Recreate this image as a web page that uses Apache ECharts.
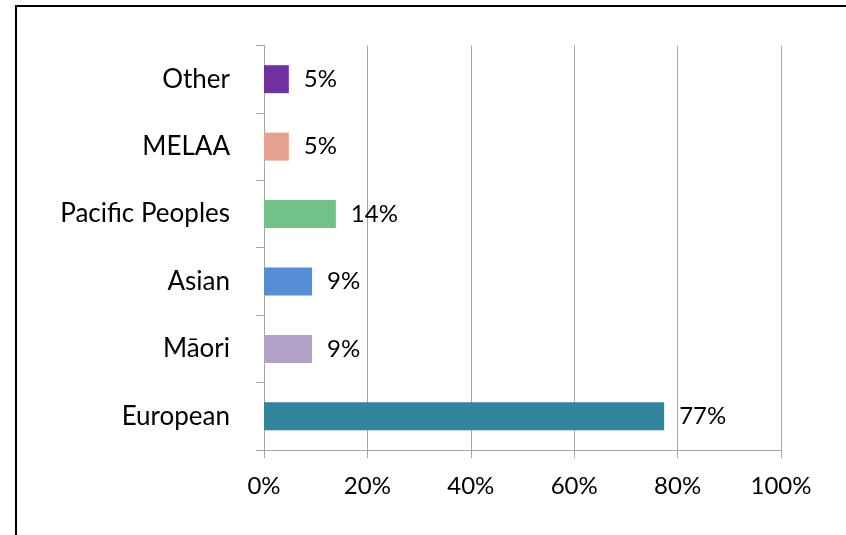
<!DOCTYPE html>
<html>
<head>
<meta charset="utf-8">
<script src="https://cdn.jsdelivr.net/npm/echarts@6/dist/echarts.min.js"></script>
<style>
  html, body { margin: 0; padding: 0; background: #fff; }
  #frame { position: absolute; left: 15px; top: 5px; width: 900px; height: 600px; border-top: 2px solid #000; border-left: 2px solid #000; }
  #chart { position: absolute; left: 0; top: 0; width: 846px; height: 535px; }
</style>
</head>
<body>
<div id="frame"></div>
<div id="chart"></div>
<script>
// bottom to top, as the category axis draws them
const categories = ['European', 'Māori', 'Asian', 'Pacific Peoples', 'MELAA', 'Other'];
const shares = [77.4, 9.3, 9.3, 13.9, 4.8, 4.8];
const barColors = ['#31859C', '#B3A2C7', '#558ED5', '#72C189', '#E6A08F', '#7030A0'];
const xTicks = [0, 20, 40, 60, 80, 100];

const FONT = 'Lato';
const AXIS = '#a6a6a6';

const chart = echarts.init(document.getElementById('chart'), null, { renderer: 'canvas' });

chart.setOption({
  animation: false,
  backgroundColor: 'transparent',
  textStyle: { fontFamily: FONT },
  grid: { left: 264, right: 65, top: 45.5, bottom: 85, outerBoundsMode: 'none' },
  xAxis: {
    type: 'value',
    min: xTicks[0],
    max: xTicks[xTicks.length - 1],
    interval: xTicks[1] - xTicks[0],
    axisLine: { show: true, lineStyle: { color: AXIS, width: 1 } },
    axisTick: { show: true, length: 8, lineStyle: { color: AXIS } },
    splitLine: { show: true, lineStyle: { color: AXIS, width: 1 } },
    axisLabel: { color: '#000', fontSize: 24, fontFamily: FONT, margin: 24, formatter: (v) => v + '%' },
  },
  yAxis: {
    type: 'category',
    data: categories,
    axisLine: { show: true, lineStyle: { color: AXIS, width: 1 } },
    axisTick: { show: true, length: 8, lineStyle: { color: AXIS } },
    axisLabel: { color: '#000', fontSize: 26, fontFamily: FONT, margin: 34 },
  },
  series: [{
    type: 'bar',
    barWidth: 28,
    data: shares.map((v, i) => ({ value: v, itemStyle: { color: barColors[i] } })),
    label: {
      show: true,
      position: 'right',
      distance: 15,
      color: '#000',
      fontSize: 24,
      fontFamily: FONT,
      formatter: (p) => Math.round(p.value) + '%',
    },
  }],
});
</script>
</body>
</html>
